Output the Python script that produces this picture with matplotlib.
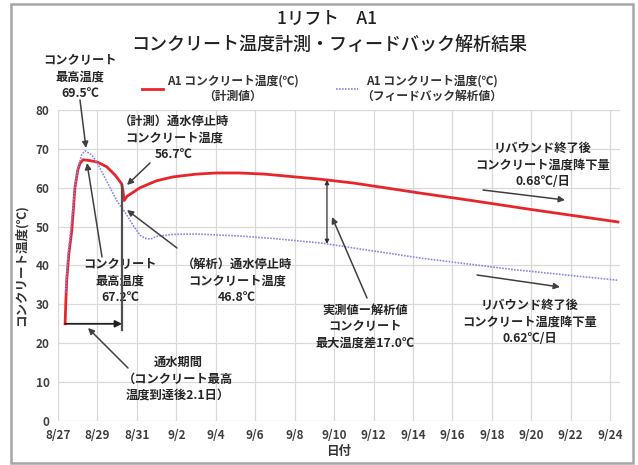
import matplotlib
matplotlib.use("Agg")
import matplotlib.pyplot as plt
from matplotlib.patches import Rectangle
import numpy as np

plt.rcParams['font.family'] = ['Noto Sans CJK JP', 'DejaVu Sans']

# ---- data (days after 8/27) ----
red_day = [0.36, 0.40, 0.44, 0.55, 0.70, 0.86, 1.00, 1.12, 1.27, 1.60, 2.00, 2.47, 2.89,
           3.23, 3.30, 3.35, 3.50, 4.16, 5.00, 5.84, 7.00, 8.00, 9.20, 10.5, 12.0, 13.3,
           15.0, 18.4, 21.0, 24.0, 28.4]
red_temp = [25.0, 31.0, 36.0, 43.0, 49.0, 60.0, 64.5, 66.3, 67.2, 67.0, 66.6, 65.4, 63.3,
            61.0, 59.0, 56.7, 57.8, 60.0, 61.8, 62.8, 63.5, 63.8, 63.8, 63.5, 62.8, 62.2,
            61.2, 58.6, 56.7, 54.4, 51.2]

blue_day = [0.38, 0.50, 0.70, 0.86, 1.00, 1.20, 1.37, 1.70, 2.00, 2.64, 3.00, 3.40, 3.80,
            4.16, 4.40, 4.70, 5.00, 5.84, 7.00, 9.20, 11.0, 13.3, 18.4, 23.0, 28.4]
blue_temp = [33.0, 42.0, 52.0, 60.0, 65.0, 68.5, 69.5, 68.5, 66.3, 60.0, 56.5, 53.7, 50.4,
             47.8, 47.0, 46.8, 47.5, 48.0, 48.1, 47.6, 46.9, 45.8, 41.9, 39.0, 36.2]

x_ticks = list(range(0, 29, 2))
x_tick_labels = ['8/27', '8/29', '8/31', '9/2', '9/4', '9/6', '9/8', '9/10', '9/12',
                 '9/14', '9/16', '9/18', '9/20', '9/22', '9/24']
y_ticks = [0, 10, 20, 30, 40, 50, 60, 70, 80]

red_label = 'A1 コンクリート温度(℃)\n（計測値）'
blue_label = 'A1 コンクリート温度(℃)\n（フィードバック解析値）'

water_start_day = 0.36
water_stop_day = 3.25
diff_day = 13.64

# ---- figure ----
W, H = 638, 465
fig = plt.figure(figsize=(W / 100, H / 100), dpi=100)
ax = fig.add_axes([58 / W, 1 - 421 / H, (620 - 58) / W, (421 - 110) / H])

def px(x, y):
    return ((x - 58) / 19.72, (421 - y) / 3.8875)

ax.plot(red_day, red_temp, color='#e8262a', lw=2.0, label=red_label, zorder=3)
ax.plot(blue_day, blue_temp, color='#8888e6', lw=1.2, ls=(0, (1, 0.8)), label=blue_label, zorder=3)

ax.set_xlim(0, 28.5)
ax.set_ylim(0, 80)
ax.set_xticks(x_ticks)
ax.set_xticklabels(x_tick_labels)
ax.set_yticks(y_ticks)
ax.grid(True, color='#d9d9d9', lw=0.9)
ax.set_axisbelow(True)
for s in ax.spines.values():
    s.set_visible(False)
ax.tick_params(length=0, labelsize=8.5, colors='#404040', pad=6)
for lab in ax.get_xticklabels() + ax.get_yticklabels():
    lab.set_fontweight('bold')
ax.set_xlabel('日付', fontsize=9, color='#333333', labelpad=2, fontweight='bold')
ax.set_ylabel('コンクリート温度(℃)', fontsize=9, color='#333333', labelpad=6, fontweight='bold')

fig.text(0.513, 1 - 19 / H, '1リフト　A1', ha='center', va='center', fontsize=12.5, color='#222222',
         fontweight='medium')
fig.text(0.516, 1 - 46 / H, 'コンクリート温度計測・フィードバック解析結果', ha='center', va='center',
         fontsize=13, color='#222222', fontweight='medium')

leg = fig.legend(loc='upper center', bbox_to_anchor=(322 / W, 1 - 64 / H), ncol=2, frameon=False,
                 prop=dict(size=8.5, weight='bold'), handlelength=1.8, handletextpad=0.3,
                 columnspacing=3.2)
for t in leg.get_texts():
    t.set_multialignment('center')
    t.set_color('#333333')

ac = '#404040'
tc = '#262626'
fs = 8.8

def ann(text, txy, start, end):
    ax.text(*px(*txy), text, ha='center', va='center', fontsize=fs, color=tc,
            linespacing=1.35, clip_on=False, fontweight='bold')
    ax.annotate('', xy=px(*end), xytext=px(*start), annotation_clip=False,
                arrowprops=dict(arrowstyle='-|>', color=ac, lw=1.1, mutation_scale=9,
                                shrinkA=0, shrinkB=0))

ann('コンクリート\n最高温度\n69.5℃', (80, 77), (80, 100), (86, 148))
ann('コンクリート\n最高温度\n67.2℃', (120, 281), (102, 257), (87, 163))
ann('（計測）通水停止時\nコンクリート温度\n56.7℃', (174, 138), (150, 163), (127, 185))
ann('（解析）通水停止時\nコンクリート温度\n46.8℃', (237, 281), (177, 248), (127, 210))
ann('実測値ー解析値\nコンクリート\n最大温度差17.0℃', (365, 327), (367, 298), (332, 217))
ann('リバウンド終了後\nコンクリート温度降下量\n0.68℃/日', (543, 165), (483, 190), (565, 200))
ann('リバウンド終了後\nコンクリート温度降下量\n0.62℃/日', (530, 322), (477, 275), (560, 287))
ann('通水期間\n（コンクリート最高\n温度到達後2.1日）', (178, 379), (128, 368), (88, 328))

# water period arrow and stop line
ax.annotate('', xy=(water_stop_day, 25), xytext=(water_start_day, 25),
            arrowprops=dict(arrowstyle='-|>', color='#202020', lw=1.3, mutation_scale=10,
                            shrinkA=0, shrinkB=0))
ax.plot([water_stop_day, water_stop_day], [23.5, 60.6], color='#505050', lw=1.6, zorder=4)

# difference arrow
r = np.interp(diff_day, red_day, red_temp)
b = np.interp(diff_day, blue_day, blue_temp)
ax.annotate('', xy=(diff_day, b), xytext=(diff_day, r),
            arrowprops=dict(arrowstyle='<|-|>', color='#303030', lw=0.9, mutation_scale=6,
                            shrinkA=0, shrinkB=0))

fig.add_artist(Rectangle((11 / W, 2 / H), 622 / W, 459 / H, transform=fig.transFigure,
                         fill=False, edgecolor='#a6a6a6', lw=1.8))

fig.savefig('out.png', dpi=100)
